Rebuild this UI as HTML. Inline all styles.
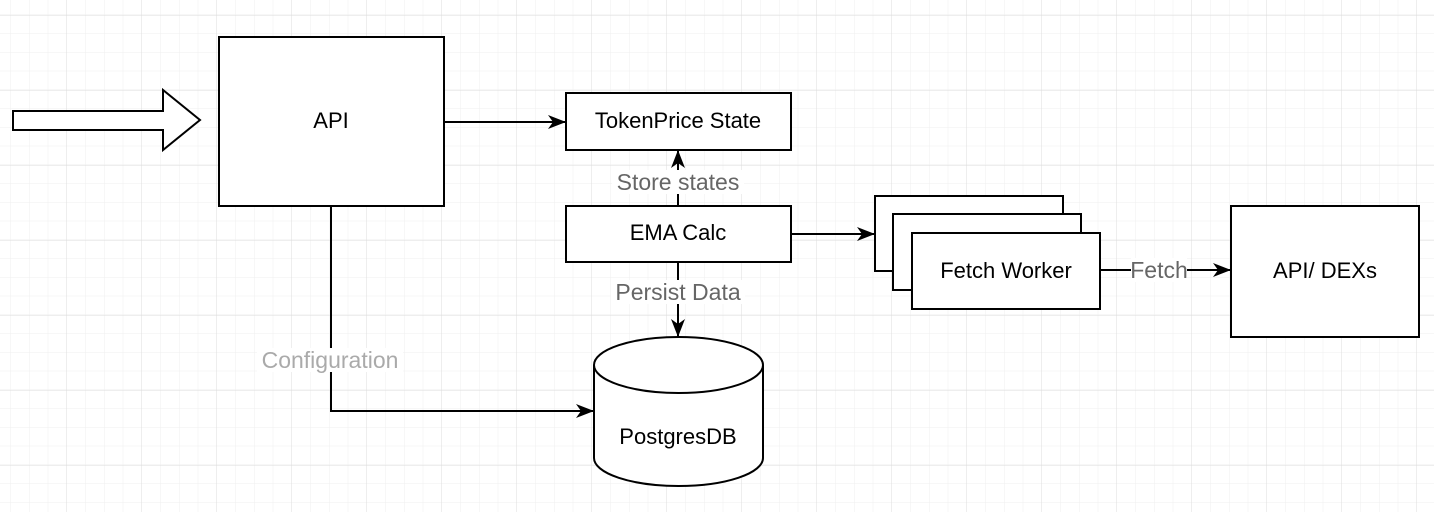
<!DOCTYPE html>
<html><head><meta charset="utf-8"><style>
html,body{margin:0;padding:0;background:#fff;}
svg{display:block;}
text{font-family:"Liberation Sans",Arial,sans-serif;font-size:22px;}
.lb{font-size:23px;}
</style></head><body>
<svg width="1434" height="512" viewBox="0 0 1434 512" xmlns="http://www.w3.org/2000/svg">
<defs>
<pattern id="minor" x="-8" y="-3.75" width="18.75" height="18.75" patternUnits="userSpaceOnUse">
<path d="M18.75 0V18.75M0 18.75H18.75" stroke="#efefef" stroke-width="1" fill="none"/>
</pattern>
<pattern id="major" x="-8" y="-59" width="75" height="75" patternUnits="userSpaceOnUse">
<path d="M75 0V75M0 75H75" stroke="#dcdcdc" stroke-width="1" fill="none"/>
</pattern>
<marker id="ah" viewBox="0 0 18 14" refX="17" refY="7" markerWidth="18" markerHeight="14" markerUnits="userSpaceOnUse" orient="auto">
<path d="M0 0L18 7L0 14L5 7Z" fill="#000"/>
</marker>
</defs>
<rect width="1434" height="512" fill="url(#minor)"/>
<rect width="1434" height="512" fill="url(#major)"/>

<g stroke="#000" stroke-width="2" fill="#fff">
<path d="M13 111H163V90L200 120L163 150V130H13Z"/>
<rect x="219" y="37" width="225" height="169"/>
<rect x="566" y="93" width="225" height="57"/>
<rect x="566" y="206" width="225" height="56"/>
<rect x="875" y="196" width="188" height="75"/>
<rect x="893" y="214" width="188" height="76"/>
<rect x="912" y="233" width="188" height="76"/>
<rect x="1231" y="206" width="188" height="131"/>
<path d="M594 365V458A84.5 28 0 0 0 763 458V365A84.5 28 0 0 0 594 365Z"/>
<path d="M594 365A84.5 28 0 0 0 763 365" fill="none"/>
</g>

<g stroke="#000" stroke-width="2" fill="none">
<path d="M444 122H565" marker-end="url(#ah)"/>
<path d="M791 234H874" marker-end="url(#ah)"/>
<path d="M678 206V151" marker-end="url(#ah)"/>
<path d="M678 262V336" marker-end="url(#ah)"/>
<path d="M331 206V411H593" marker-end="url(#ah)"/>
<path d="M1100 270H1230" marker-end="url(#ah)"/>
</g>

<g fill="#fff">
<rect x="612" y="170" width="132" height="24"/>
<rect x="611" y="280" width="134" height="24"/>
<rect x="257" y="348" width="146" height="24"/>
<rect x="1131" y="258" width="56" height="24"/>
</g>

<g text-anchor="middle" fill="#000">
<text x="331" y="128">API</text>
<text x="678" y="128">TokenPrice State</text>
<text x="678" y="240">EMA Calc</text>
<text x="1006" y="278">Fetch Worker</text>
<text x="1325" y="278">API/ DEXs</text>
<text x="678" y="444">PostgresDB</text>
<text class="lb" x="678" y="190" fill="#666">Store states</text>
<text class="lb" x="678" y="300" fill="#666">Persist Data</text>
<text class="lb" x="330" y="368" fill="#aaa">Configuration</text>
<text class="lb" x="1159" y="278" fill="#666">Fetch</text>
</g>
</svg>
</body></html>
